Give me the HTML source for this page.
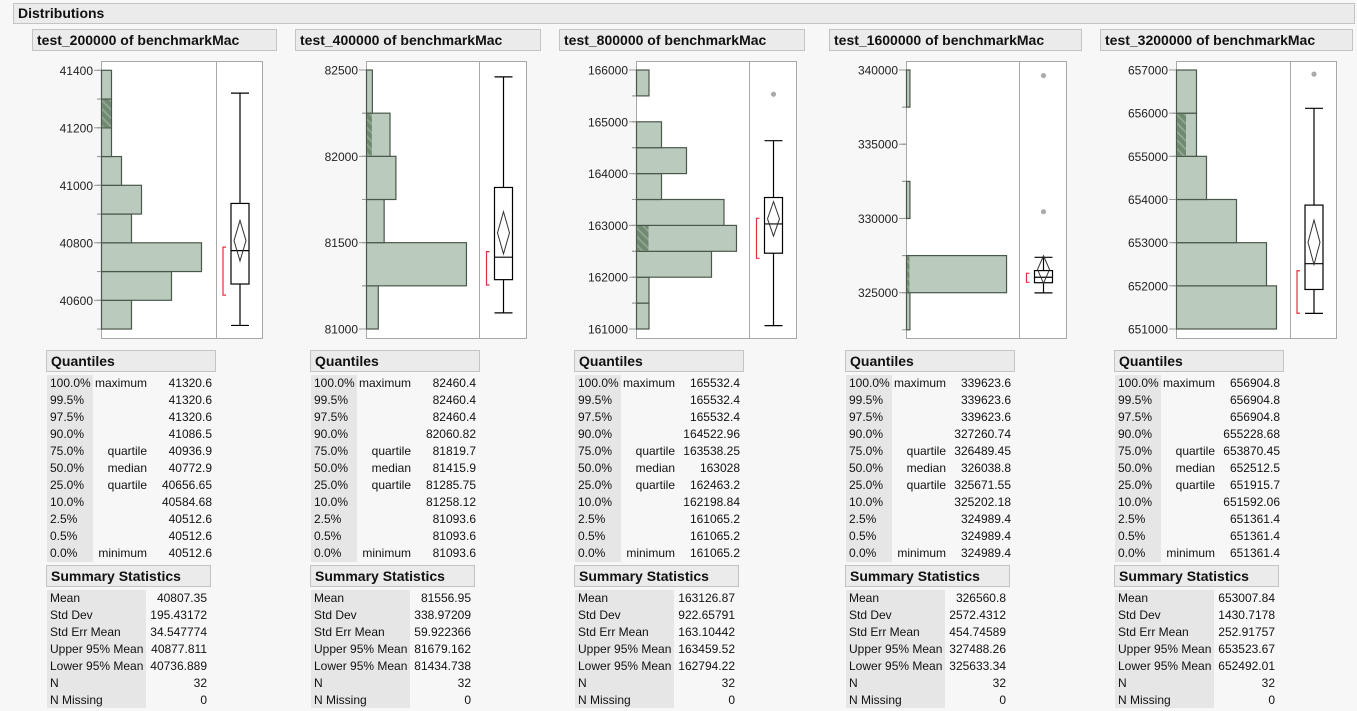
<!DOCTYPE html>
<html><head><meta charset="utf-8">
<style>
body{margin:0;width:1357px;height:711px;background:#f7f7f7;font-family:"Liberation Sans",sans-serif;position:relative;overflow:hidden;color:#111}
.hdr{position:absolute;background:#ebebeb;border:1px solid #c4c4c4;font-weight:bold;font-size:14px;box-sizing:border-box;padding-left:4px;line-height:19px}
.t{position:absolute;font-size:12px;white-space:nowrap;line-height:14px}
.g{position:absolute;background:#e6e6e6}
svg{position:absolute;left:0;top:0}
</style></head><body>
<div class="hdr" style="left:13px;top:3px;width:1342px;height:21px">Distributions</div>
<svg id="plot" width="1357" height="711"></svg>
<script>
const titles=["test_200000 of benchmarkMac","test_400000 of benchmarkMac","test_800000 of benchmarkMac","test_1600000 of benchmarkMac","test_3200000 of benchmarkMac"];
const binStarts=[40500,81000,161000,322500,651000];
const binWidths=[100,250,500,2500,1000];
const binCounts=[[3,7,10,3,4,2,1,1,1],[2,17,3,5,4,1],[1,1,6,8,7,2,4,2,0,1],[1,29,0,1,0,0,1],[10,9,6,3,2,2]];
const hatchBins=[7,4,3,1,4];
const tickLabels=[[40600,40800,41000,41200,41400],[81000,81500,82000,82500],[161000,162000,163000,164000,165000,166000],[325000,330000,335000,340000],[651000,652000,653000,654000,655000,656000,657000]];
const whiskerLow=[40512.6,81093.6,161065.2,324989.4,651361.4];
const whiskerHigh=[41320.6,82460.4,164635,327384,656113];
const q1s=[40656.65,81285.75,162463.2,325671.55,651915.7];
const medians=[40772.9,81415.9,163028,326038.8,652512.5];
const q3s=[40936.9,81819.7,163538.25,326489.45,653870.45];
const means=[40807.35,81556.95,163126.87,326560.8,653007.84];
const upperCI=[40877.811,81679.162,163459.52,327488.26,653523.67];
const lowerCI=[40736.889,81434.738,162794.22,325633.34,652492.01];
const shortLow=[40618,81255,162365,325700,651364];
const shortHigh=[40785,81448,163137,326307,652350];
const outliers=[[],[],[165532.4],[339623.6,330456],[656904.8]];
const quantileVals=[
["41320.6","41320.6","41320.6","41086.5","40936.9","40772.9","40656.65","40584.68","40512.6","40512.6","40512.6"],
["82460.4","82460.4","82460.4","82060.82","81819.7","81415.9","81285.75","81258.12","81093.6","81093.6","81093.6"],
["165532.4","165532.4","165532.4","164522.96","163538.25","163028","162463.2","162198.84","161065.2","161065.2","161065.2"],
["339623.6","339623.6","339623.6","327260.74","326489.45","326038.8","325671.55","325202.18","324989.4","324989.4","324989.4"],
["656904.8","656904.8","656904.8","655228.68","653870.45","652512.5","651915.7","651592.06","651361.4","651361.4","651361.4"]];
const summaryVals=[
["40807.35","195.43172","34.547774","40877.811","40736.889","32","0"],
["81556.95","338.97209","59.922366","81679.162","81434.738","32","0"],
["163126.87","922.65791","163.10442","163459.52","162794.22","32","0"],
["326560.8","2572.4312","454.74589","327488.26","325633.34","32","0"],
["653007.84","1430.7178","252.91757","653523.67","652492.01","32","0"]];
const pctLabels=["100.0%","99.5%","97.5%","90.0%","75.0%","50.0%","25.0%","10.0%","2.5%","0.5%","0.0%"];
const qNames=["maximum","","","","quartile","median","quartile","","","","minimum"];
const sumLabels=["Mean","Std Dev","Std Err Mean","Upper 95% Mean","Lower 95% Mean","N","N Missing"];

// layout (not data)
const frameL=[101,366,636,906,1176],frameD=[216,479,749,1019,1290],frameR=[262,526,796,1066,1336];
const axTop=[[41400,70.3],[82500,70],[166000,70],[340000,70],[657000,70]];
const axBot=[[40600,300.3],[81000,329],[161000,329],[325000,292.7],[651000,329]];
const unitPx=[10,5.88,12.5,3.45,10];
const titleL=[32,295,559,829,1100],titleW=[245,246,246,253,253];
const tabL=[46,310,574,845,1114];
const NS="http://www.w3.org/2000/svg";
const svg=document.getElementById('plot');
function el(tag,attrs,parent){const e=document.createElementNS(NS,tag);for(const k in attrs)e.setAttribute(k,attrs[k]);(parent||svg).appendChild(e);return e;}
const defs=el('defs',{});
const pat=el('pattern',{id:'hatch',width:6,height:6,patternUnits:'userSpaceOnUse',patternTransform:'rotate(-45)'},defs);
el('rect',{width:6,height:6,fill:'#6f8a70'},pat);
el('rect',{width:2,height:6,fill:'#8ea48f'},pat);

for(let p=0;p<5;p++){
  const yOf=v=>axTop[p][1]+(axTop[p][0]-v)/(axTop[p][0]-axBot[p][0])*(axBot[p][1]-axTop[p][1]);
  const g=el('g',{});
  
  
  // title
  const tt=document.createElement('div');tt.className='hdr';tt.textContent=titles[p];
  tt.style.cssText=`left:${titleL[p]}px;top:29px;width:${titleW[p]}px;height:22px;line-height:20px`;
  
  
  document.body.appendChild(tt);
  // frame
  const fr=el('rect',{x:frameL[p]+.5,y:61.5,width:frameR[p]-frameL[p],height:277,fill:'#fff',stroke:'#a8a8a8'},g);
  
  
  el('line',{x1:frameD[p]+.5,x2:frameD[p]+.5,y1:61.5,y2:338.5,stroke:'#a8a8a8'},g);
  // bins
  const cs=binCounts[p];
  for(let i=0;i<cs.length;i++){
    const lo=binStarts[p]+i*binWidths[p],hi=lo+binWidths[p];
    const y1=yOf(hi),y2=yOf(lo);
    el('line',{x1:frameL[p]-4,x2:frameL[p],y1:y2,y2:y2,stroke:'#999'},g);
    el('line',{x1:frameL[p]-4,x2:frameL[p],y1:y1,y2:y1,stroke:'#999'},g);
    if(cs[i]>0){
      const w=cs[i]*unitPx[p];
      const b=el('rect',{x:frameL[p]+.5,y:y1,width:Math.max(w,2),height:y2-y1,fill:'#bacabc',stroke:'#4a574b','stroke-width':1.2},g);
      
      
      if(i===hatchBins[p]){
        el('rect',{x:frameL[p]+1,y:y1+.6,width:Math.max(unitPx[p]*1-1,1.5),height:y2-y1-1.2,fill:'url(#hatch)'},g);
      }
    }
  }
  // ticks
  tickLabels[p].forEach(v=>{
    const y=yOf(v);
    el('line',{x1:frameL[p]-7,x2:frameL[p],y1:y,y2:y,stroke:'#999'},g);
    const t=el('text',{x:frameL[p]-8,y:y+4.5,'text-anchor':'end','font-size':12,fill:'#222','font-family':'Liberation Sans'},g);
    t.textContent=v;
    
    
  });
  // box plot
  const bx=(frameD[p]+frameR[p])/2+1,bw=9;
  const bg=el('g',{stroke:'#000',fill:'none','stroke-width':1.2},g);
  
  
  el('line',{x1:bx,x2:bx,y1:yOf(whiskerHigh[p]),y2:yOf(q3s[p])},bg);
  el('line',{x1:bx,x2:bx,y1:yOf(q1s[p]),y2:yOf(whiskerLow[p])},bg);
  el('line',{x1:bx-bw,x2:bx+bw,y1:yOf(whiskerHigh[p]),y2:yOf(whiskerHigh[p])},bg);
  el('line',{x1:bx-bw,x2:bx+bw,y1:yOf(whiskerLow[p]),y2:yOf(whiskerLow[p])},bg);
  el('rect',{x:bx-bw,y:yOf(q3s[p]),width:2*bw,height:yOf(q1s[p])-yOf(q3s[p]),fill:'#fff'},bg);
  el('line',{x1:bx-bw,x2:bx+bw,y1:yOf(medians[p]),y2:yOf(medians[p])},bg);
  const ym=yOf(means[p]),yu=yOf(upperCI[p]),yl=yOf(lowerCI[p]);
  const dm=el('polygon',{points:`${bx},${yu} ${bx+6},${ym} ${bx},${yl} ${bx-6},${ym}`,stroke:'#333','stroke-width':1},bg);
  
  
  const sx=bx-bw-8,sh=yOf(shortHigh[p]),sl=yOf(shortLow[p]);
  const br=el('polyline',{points:`${sx+3},${sh} ${sx},${sh} ${sx},${sl} ${sx+3},${sl}`,stroke:'#e0303f',fill:'none','stroke-width':1.2},g);
  
  
  outliers[p].forEach(v=>{
    const c=el('circle',{cx:bx,cy:yOf(v),r:2.6,fill:'#aaa'},g);
    
    
  });
  // tables
  const L=tabL[p];
  const qh=document.createElement('div');qh.className='hdr';qh.textContent='Quantiles';
  qh.style.cssText=`left:${L}px;top:350px;width:170px;height:22px;line-height:20px`;
  
  
  document.body.appendChild(qh);
  const gq=document.createElement('div');gq.className='g';gq.style.cssText=`left:${L+1}px;top:375px;width:46px;height:187px`;
  
  
  document.body.appendChild(gq);
  for(let i=0;i<11;i++){
    const y=376+17*i;
    const a=document.createElement('div');a.className='t';a.textContent=pctLabels[i];a.style.cssText=`left:${L+4}px;top:${y}px`;
    
    
    document.body.appendChild(a);
    if(qNames[i]){const b=document.createElement('div');b.className='t';b.textContent=qNames[i];b.style.cssText=`right:${1357-(L+101)}px;top:${y}px`;
      
      
      document.body.appendChild(b);}
    const c=document.createElement('div');c.className='t';c.textContent=quantileVals[p][i];c.style.cssText=`right:${1357-(L+166)}px;top:${y}px`;
    
    
    document.body.appendChild(c);
  }
  const sh2=document.createElement('div');sh2.className='hdr';sh2.textContent='Summary Statistics';
  sh2.style.cssText=`left:${L}px;top:565px;width:165px;height:22px;line-height:20px`;
  
  
  document.body.appendChild(sh2);
  const gs=document.createElement('div');gs.className='g';gs.style.cssText=`left:${L+1}px;top:590px;width:99px;height:118px`;
  
  
  document.body.appendChild(gs);
  for(let i=0;i<7;i++){
    const y=591+17*i;
    const a=document.createElement('div');a.className='t';a.textContent=sumLabels[i];a.style.cssText=`left:${L+4}px;top:${y}px`;
    
    
    document.body.appendChild(a);
    const c=document.createElement('div');c.className='t';c.textContent=summaryVals[p][i];c.style.cssText=`right:${1357-(L+161)}px;top:${y}px`;
    
    
    document.body.appendChild(c);
  }
}
</script>
</body></html>
